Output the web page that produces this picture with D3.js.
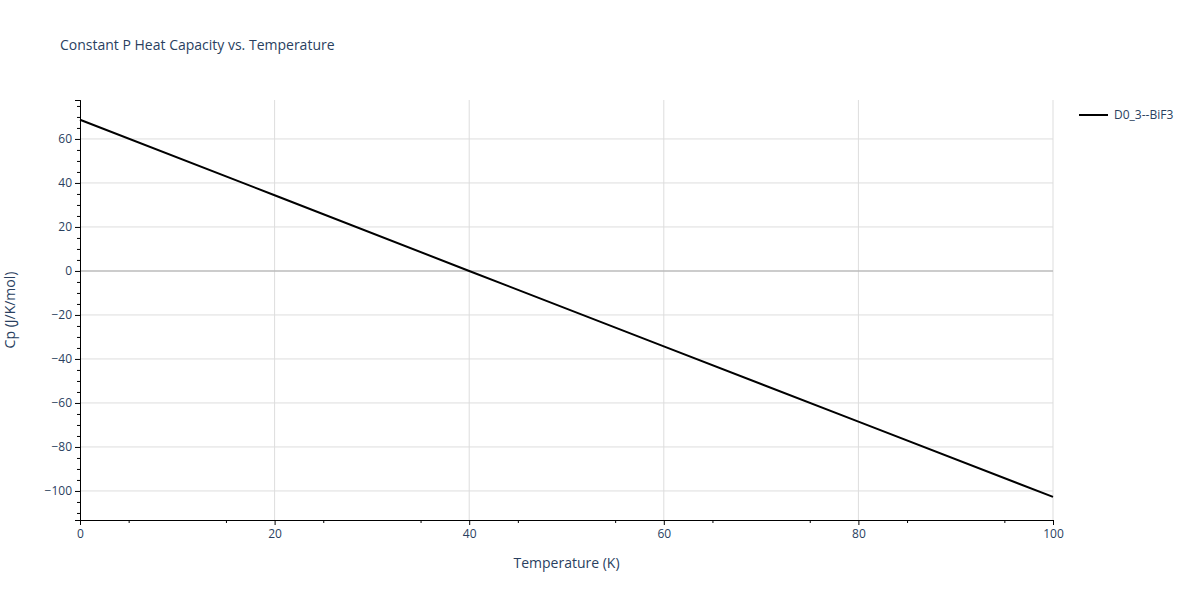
<!DOCTYPE html>
<html><head><meta charset="utf-8">
<script src="https://cdn.jsdelivr.net/npm/d3@7"></script>
<style>body{margin:0;background:#fff}text{font-family:"Open Sans",sans-serif}</style>
</head><body><svg id="c" width="1200" height="600"></svg>
<script>
const temperature = [0, 20, 40, 60, 80, 100];
const cp = [68.7, 34.4, 0, -34.3, -68.5, -102.7];
const seriesName = "D0_3--BiF3";
const xTicks = [0, 20, 40, 60, 80, 100];
const yTicks = [-100, -80, -60, -40, -20, 0, 20, 40, 60];

const svg = d3.select("#c");
const m = {l: 80, r: 147, t: 100, b: 80};
const W = 1200 - m.l - m.r, H = 600 - m.t - m.b;
const x = d3.scaleLinear().domain([0, 100]).range([0, W]);
const y = d3.scaleLinear().domain([-113.2, 77.7]).range([H, 0]);
const g = svg.append("g").attr("transform", `translate(${m.l},${m.t})`);
const col = "#2a3f5f";

// grid
g.selectAll(".gx").data(xTicks.slice(1)).enter().append("line")
  .attr("x1", d => x(d)).attr("x2", d => x(d)).attr("y1", 0).attr("y2", H)
  .attr("stroke", "#ddd");
g.selectAll(".gy").data(yTicks).enter().append("line")
  .attr("x1", 0).attr("x2", W).attr("y1", d => y(d)).attr("y2", d => y(d))
  .attr("stroke", d => d === 0 ? "#bbb" : "#ddd").attr("stroke-width", d => d === 0 ? 1.5 : 1);

// axes
const xa = g.append("g").attr("transform", `translate(0,${H})`)
  .call(d3.axisBottom(x).tickValues(xTicks).tickSize(5).tickPadding(4));
g.append("g").attr("transform", `translate(0,${H})`)
  .call(d3.axisBottom(x).tickValues(d3.range(5, 100, 10)).tickSize(3).tickFormat(""));
g.append("g").call(d3.axisLeft(y).tickValues(yTicks).tickSize(5).tickPadding(3)
  .tickFormat(d => d < 0 ? "\u2212" + Math.abs(d) : d));
g.append("g").call(d3.axisLeft(y).tickValues(d3.range(-110, 80, 5).filter(v => v % 20 !== 0)).tickSize(3).tickFormat(""));
g.selectAll(".domain").attr("stroke", "#000");
g.selectAll(".tick line").attr("stroke", "#000");
g.selectAll(".tick text").attr("fill", col).attr("font-size", 12);

// line
g.append("path").datum(temperature.map((t, i) => [t, cp[i]]))
  .attr("fill", "none").attr("stroke", "#000").attr("stroke-width", 2)
  .attr("d", d3.line().x(d => x(d[0])).y(d => y(d[1])));

// texts
svg.append("text").attr("x", 60).attr("y", 50).attr("font-size", 14).attr("fill", col)
  .text("Constant P Heat Capacity vs. Temperature");
svg.append("text").attr("x", m.l + W / 2).attr("y", 568).attr("text-anchor", "middle")
  .attr("font-size", 14).attr("fill", col).text("Temperature (K)");
svg.append("text").attr("transform", `translate(15,${m.t + H / 2}) rotate(-90)`)
  .attr("text-anchor", "middle").attr("font-size", 14).attr("fill", col).text("Cp (J/K/mol)");

// legend
svg.append("line").attr("x1", 1079).attr("x2", 1108).attr("y1", 115).attr("y2", 115)
  .attr("stroke", "#000").attr("stroke-width", 2);
svg.append("text").attr("x", 1114).attr("y", 119).attr("font-size", 12).attr("fill", col).text(seriesName);
</script></body></html>
